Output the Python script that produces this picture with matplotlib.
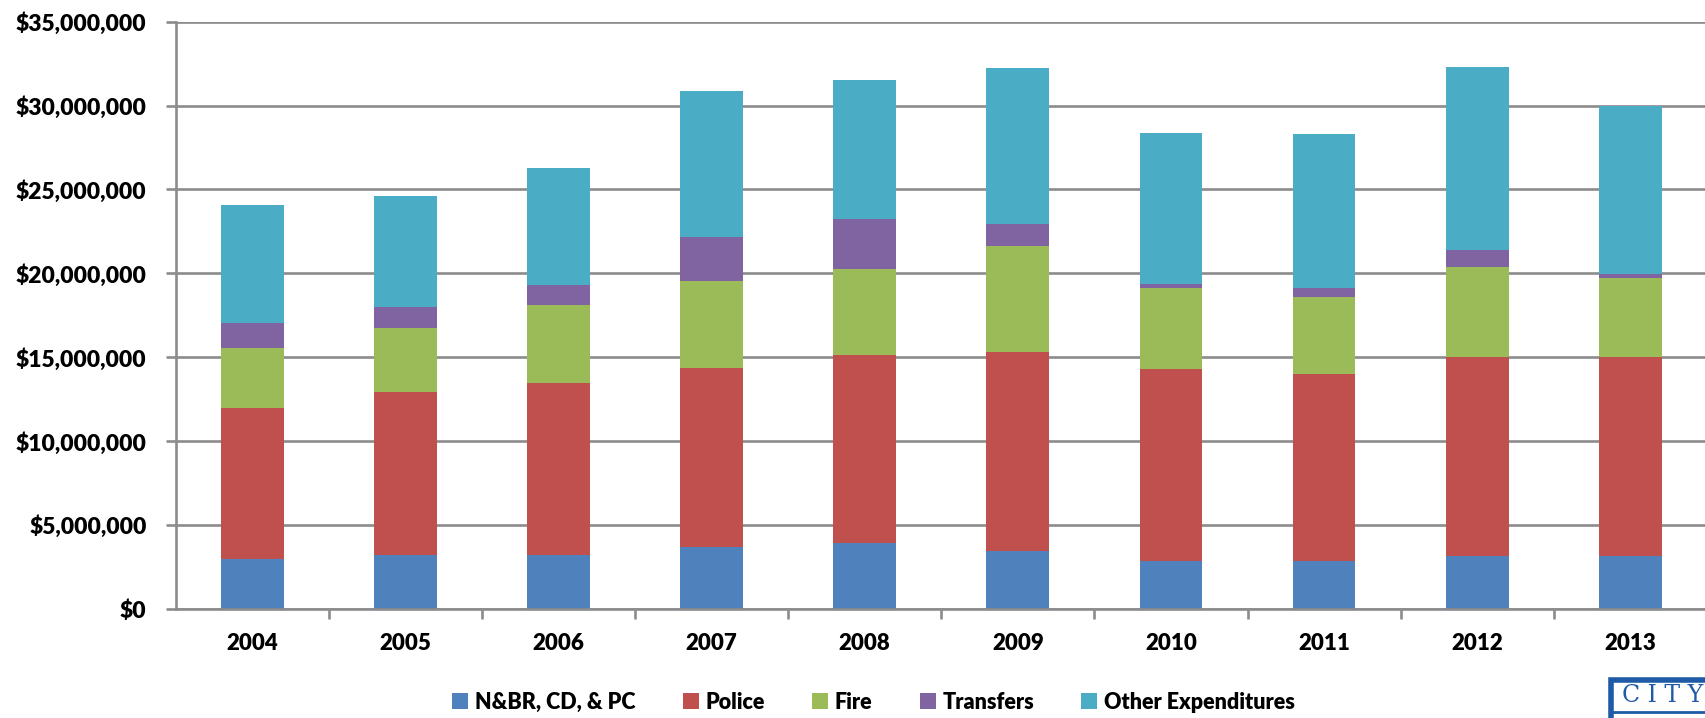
import matplotlib.pyplot as plt
import numpy as np
from matplotlib.patches import Rectangle
from matplotlib.ticker import FuncFormatter, FixedLocator

years = ["2004", "2005", "2006", "2007", "2008", "2009", "2010", "2011", "2012", "2013"]

# values in millions of dollars
nbr_cd_pc = [3.00, 3.23, 3.23, 3.70, 3.92, 3.46, 2.85, 2.85, 3.17, 3.17]
police = [9.00, 9.69, 10.23, 10.64, 11.19, 11.87, 11.45, 11.13, 11.84, 11.84]
fire = [3.53, 3.83, 4.66, 5.18, 5.16, 6.31, 4.82, 4.62, 5.40, 4.72]
transfers = [1.54, 1.23, 1.16, 2.64, 2.97, 1.30, 0.23, 0.52, 0.99, 0.22]
other = [7.02, 6.63, 7.00, 8.68, 8.28, 9.28, 9.04, 9.18, 10.88, 10.00]

series_names = ["N&BR, CD, & PC", "Police", "Fire", "Transfers", "Other Expenditures"]
colors = ["#4F81BD", "#C0504D", "#9BBB59", "#8064A2", "#4BACC6"]

plt.rcParams["font.family"] = ["Lato", "DejaVu Sans"]
plt.rcParams["font.weight"] = "heavy"

fig = plt.figure(figsize=(17.06, 7.18), dpi=100)
ax = fig.add_axes([0.1030, 0.1518, 0.8975, 0.818])

x = np.arange(len(years))
bottom = np.zeros(len(years))
for name, vals, col in zip(series_names, [nbr_cd_pc, police, fire, transfers, other], colors):
    v = np.array(vals) * 1e6
    ax.bar(x, v, width=0.41, bottom=bottom, color=col, label=name, zorder=3,
           edgecolor="none")
    bottom += v

ax.set_xlim(-0.5, len(years) - 0.5)
ax.set_ylim(0, 35e6)
ax.set_yticks(np.arange(0, 35e6 + 1, 5e6))
ax.yaxis.set_major_formatter(FuncFormatter(lambda v, p: f"${v:,.0f}"))
ax.yaxis.grid(True, color="#8c8c8c", linewidth=1.9, zorder=1)

ax.set_xticks(x)
ax.set_xticklabels(years)
ax.xaxis.set_minor_locator(FixedLocator(np.arange(0.5, len(years) - 0.5, 1.0)))
ax.tick_params(axis="x", which="major", length=0, pad=17, labelsize=16)
ax.tick_params(axis="x", which="minor", length=7, width=1.9, color="#8c8c8c")
ax.tick_params(axis="y", length=7, width=1.9, color="#8c8c8c", pad=14, labelsize=16.5)
for lab in ax.get_xticklabels() + ax.get_yticklabels():
    lab.set_fontweight("heavy")

for side in ["top", "right"]:
    ax.spines[side].set_visible(False)
for side in ["left", "bottom"]:
    ax.spines[side].set_color("#8c8c8c")
    ax.spines[side].set_linewidth(1.9)
ax.spines["bottom"].set_zorder(4)

fig.legend(loc="center", bbox_to_anchor=(0.512, 0.022), ncol=5, frameon=False,
           handlelength=0.75, handleheight=0.75, handletextpad=0.3,
           columnspacing=2.2, prop={"weight": "heavy", "size": 15.5})

# partial city logo in the bottom-right corner
blue = "#1F5AA6"
logo = Rectangle((1611 / 1706, -0.05), 0.1, (718 - 680) / 718 + 0.05,
                 transform=fig.transFigure, fill=False, edgecolor=blue,
                 linewidth=4, clip_on=False)
fig.patches.append(logo)
fig.add_artist(plt.Line2D([1613 / 1706, 1], [1 - 712 / 718, 1 - 712 / 718],
                          transform=fig.transFigure, color=blue, linewidth=2))
fig.text(1622 / 1706, 1 - 695 / 718, "C I T Y", color=blue, fontsize=17,
         family="DejaVu Serif", fontweight="normal", va="center", ha="left")

fig.savefig("out.png", dpi=100)
